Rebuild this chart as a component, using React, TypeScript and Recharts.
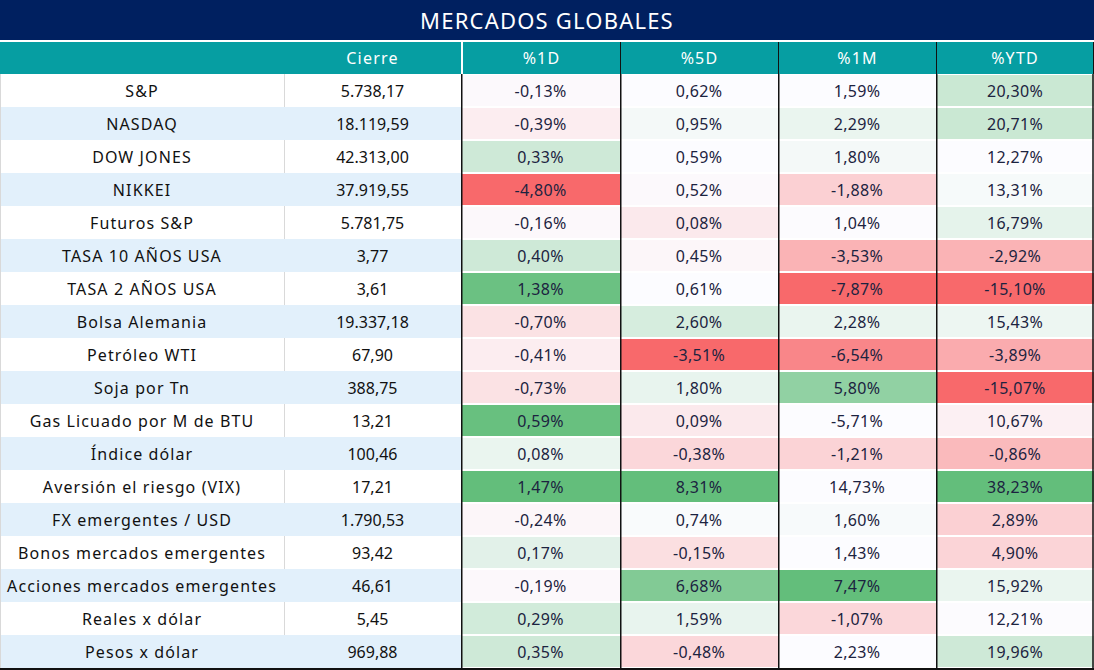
import { Bar, BarChart, XAxis, YAxis } from 'recharts'

const names = [
  'S&P', 'NASDAQ', 'DOW JONES', 'NIKKEI', 'Futuros S&P', 'TASA 10 AÑOS USA', 'TASA 2 AÑOS USA',
  'Bolsa Alemania', 'Petróleo WTI', 'Soja por Tn', 'Gas Licuado por M de BTU', 'Índice dólar',
  'Aversión el riesgo (VIX)', 'FX emergentes / USD', 'Bonos mercados emergentes',
  'Acciones mercados emergentes', 'Reales x dólar', 'Pesos x dólar',
]
const cierre = [5738.17, 18119.59, 42313.0, 37919.55, 5781.75, 3.77, 3.61, 19337.18, 67.9, 388.75, 13.21, 100.46, 17.21, 1790.53, 93.42, 46.61, 5.45, 969.88]
const chg1D = [-0.13, -0.39, 0.33, -4.8, -0.16, 0.4, 1.38, -0.7, -0.41, -0.73, 0.59, 0.08, 1.47, -0.24, 0.17, -0.19, 0.29, 0.35]
const chg5D = [0.62, 0.95, 0.59, 0.52, 0.08, 0.45, 0.61, 2.6, -3.51, 1.8, 0.09, -0.38, 8.31, 0.74, -0.15, 6.68, 1.59, -0.48]
const chg1M = [1.59, 2.29, 1.8, -1.88, 1.04, -3.53, -7.87, 2.28, -6.54, 5.8, -5.71, -1.21, 14.73, 1.6, 1.43, 7.47, -1.07, 2.23]
const chgYTD = [20.3, 20.71, 12.27, 13.31, 16.79, -2.92, -15.1, 15.43, -3.89, -15.07, 10.67, -0.86, 38.23, 2.89, 4.9, 15.92, 12.21, 19.96]

// conditional-format level (-1 red .. 0 white .. 1 green)
const heat1D = [-0.02, -0.1, 0.3, -1, -0.03, 0.3, 0.95, -0.18, -0.1, -0.18, 0.97, 0.12, 1, -0.04, 0.17, -0.03, 0.28, 0.3]
const heat5D = [0, 0.05, 0, -0.02, -0.13, -0.04, 0, 0.25, -1, 0.13, -0.13, -0.25, 1, 0.02, -0.2, 0.8, 0.13, -0.25]
const heat1M = [0, 0.12, 0.05, -0.3, -0.01, -0.5, -1, 0.12, -0.8, 0.7, 0, -0.28, 0, 0.03, 0, 1, -0.25, 0]
const heatYTD = [0.33, 0.33, 0, 0.04, 0.15, -0.5, -1, 0.1, -0.55, -1, -0.08, -0.45, 1, -0.3, -0.27, 0.12, -0.01, 0.3]

const headers = ['', 'Cierre', '%1D', '%5D', '%1M', '%YTD']
const title = 'MERCADOS GLOBALES'

const COL_W = [284, 177, 159, 158, 158, 158]
const ROW_H = 33
const FONT = '"Noto Sans", sans-serif'

const changes = [chg1D, chg5D, chg1M, chgYTD]
const heats = [heat1D, heat5D, heat1M, heatYTD]

const data = names.map((name, i) => ({
  name,
  w0: COL_W[0],
  w1: COL_W[1],
  w2: COL_W[2],
  w3: COL_W[3],
  w4: COL_W[4],
  w5: COL_W[5],
  idx: i,
}))

function fmt(v: number) {
  const [int, dec] = Math.abs(v).toFixed(2).split('.')
  const grouped = int.replace(/\B(?=(\d{3})+(?!\d))/g, '.')
  return (v < 0 ? '-' : '') + grouped + ',' + dec
}

function heatColor(h: number) {
  const base = [252, 252, 255]
  const end = h >= 0 ? [99, 190, 123] : [248, 105, 107]
  const t = Math.min(1, Math.abs(h))
  const c = base.map((b, k) => Math.round(b + (end[k] - b) * t))
  return `rgb(${c[0]},${c[1]},${c[2]})`
}

function TableCell(props: any) {
  const { x, y, width, height, payload, col } = props
  const i = payload.idx
  const cx = x + width / 2
  const cy = y + height / 2
  if (col < 2) {
    const bg = i % 2 === 1 ? '#e2f0fb' : '#ffffff'
    const label = col === 0 ? names[i] : fmt(cierre[i])
    return (
      <g>
        <rect x={x} y={y} width={width} height={height} fill={bg} />
        {col === 1 && i % 2 === 0 && (
          <line x1={x + 0.5} x2={x + 0.5} y1={y} y2={y + height} stroke="#d9d9d9" />
        )}
        {col === 0 && <line x1={0.5} x2={0.5} y1={y} y2={y + height} stroke="#d9d9d9" />}
        <text x={cx} y={cy} textAnchor="middle" dominantBaseline="central"
          fontFamily={FONT} fontSize={16} fill="#111111" letterSpacing={col === 0 ? 1.1 : 0}>
          {label}
        </text>
      </g>
    )
  }
  const v = changes[col - 2][i]
  const h = heats[col - 2][i]
  return (
    <g>
      <rect x={x} y={y} width={width} height={height} fill="#ffffff" />
      <rect x={x} y={y + 1} width={width} height={height - 2} fill={heatColor(h)} />
      <line x1={x + 0.75} x2={x + 0.75} y1={y} y2={y + height} stroke="#111111" strokeWidth={1.5} />
      {col === 5 && (
        <line x1={x + width - 1} x2={x + width - 1} y1={y} y2={y + height} stroke="#111111" strokeWidth={1.5} />
      )}
      <text x={cx} y={cy} textAnchor="middle" dominantBaseline="central"
        fontFamily={FONT} fontSize={16} fill="#1c2340" letterSpacing={0.3}>
        {fmt(v) + '%'}
      </text>
    </g>
  )
}

const total = COL_W.reduce((a, b) => a + b, 0)

export default function App() {
  return (
    <div style={{ position: 'absolute', left: 0, top: 0, width: 1094, height: 670, background: '#ffffff', fontFamily: FONT }}>
      <div style={{
        position: 'absolute', left: 0, top: 0, width: 1094, height: 40, background: '#002060',
        color: '#ffffff', fontSize: 22, lineHeight: '40px', textAlign: 'center', letterSpacing: 1.2,
      }}>
        {title}
      </div>
      <div style={{ position: 'absolute', left: 0, top: 42, width: 1094, height: 32, display: 'flex' }}>
        {headers.map((hd, k) => (
          <div key={k} style={{
            width: COL_W[k], height: 32, background: '#069ea2', color: '#ffffff', fontSize: 16,
            lineHeight: '32px', textAlign: 'center', boxSizing: 'border-box', letterSpacing: 1.2,
            borderLeft: k === 2 ? '2px solid #ffffff' : k > 2 ? '1.5px solid #111111' : 'none',
            borderRight: k === 5 ? '1.5px solid #111111' : 'none',
          }}>
            {hd}
          </div>
        ))}
      </div>
      <div style={{ position: 'absolute', left: 0, top: 74 }}>
        <BarChart width={1094} height={ROW_H * names.length} data={data} layout="vertical"
          margin={{ top: 0, right: 0, bottom: 0, left: 0 }} barCategoryGap={0} barGap={0}>
          <XAxis type="number" domain={[0, total]} hide />
          <YAxis type="category" dataKey="name" hide />
          {[0, 1, 2, 3, 4, 5].map((c) => (
            <Bar key={c} dataKey={`w${c}`} stackId="t" isAnimationActive={false}
              shape={(p: any) => <TableCell {...p} col={c} />} />
          ))}
        </BarChart>
      </div>
      <div style={{ position: 'absolute', left: 0, top: 668, width: 1094, height: 2, background: '#111111' }} />
    </div>
  )
}
